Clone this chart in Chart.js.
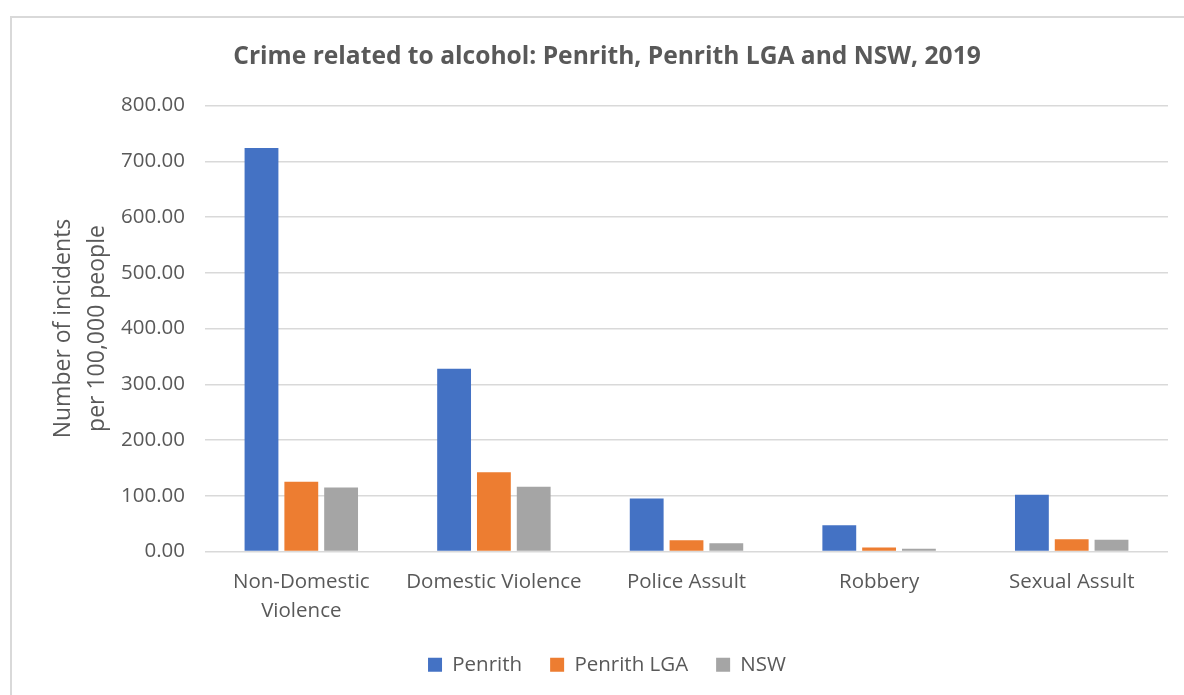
<!DOCTYPE html>
<html>
<head>
<meta charset="utf-8">
<script src="https://cdn.jsdelivr.net/npm/chart.js@4.4.1/dist/chart.umd.min.js"></script>
<style>
  html, body { margin: 0; padding: 0; background: #fff; }
  #wrap { position: relative; width: 1184px; height: 695px; overflow: hidden; }
  #frame { position: absolute; left: 10px; top: 16px; width: 1200px; height: 720px; border: 2px solid #d9d9d9; box-sizing: border-box; }
  #box { position: absolute; left: 0; top: 0; width: 1184px; height: 695px; }
</style>
</head>
<body>
<div id="wrap">
  <div id="frame"></div>
  <div id="box"><canvas id="crimeChart"></canvas></div>
</div>
<script>
// Datos del gráfico
const categorias = [['Non-Domestic', 'Violence'], 'Domestic Violence', 'Police Assult', 'Robbery', 'Sexual Assult'];
const penrith = [724, 328, 95, 47, 102];
const penrithLGA = [125, 142, 20, 7, 22];
const nsw = [115, 116, 15, 5, 21];
const ticksY = [0, 100, 200, 300, 400, 500, 600, 700, 800];

const FONT = "'Open Sans', 'Noto Sans', sans-serif";
const GRIS_TEXTO = '#595959';

Chart.defaults.font.family = FONT;
Chart.defaults.color = GRIS_TEXTO;

const ctx = document.getElementById('crimeChart').getContext('2d');
new Chart(ctx, {
    type: 'bar',
    data: {
        labels: categorias,
        datasets: [
            { label: 'Penrith', data: penrith, backgroundColor: '#4472C4' },
            { label: 'Penrith LGA', data: penrithLGA, backgroundColor: '#ED7D31' },
            { label: 'NSW', data: nsw, backgroundColor: '#A5A5A5' }
        ]
    },
    options: {
        responsive: true,
        maintainAspectRatio: false,
        animation: false,
        categoryPercentage: 0.62,
        barPercentage: 0.85,
        layout: {
            padding: { left: 46, right: 16, top: 0, bottom: 10 }
        },
        plugins: {
            title: {
                display: true,
                text: 'Crime related to alcohol: Penrith, Penrith LGA and NSW, 2019',
                color: GRIS_TEXTO,
                font: { size: 24.6, weight: 'bold', lineHeight: 1.2 },
                padding: { top: 42, bottom: 34 }
            },
            legend: {
                position: 'bottom',
                labels: {
                    boxWidth: 14,
                    boxHeight: 14,
                    padding: 28,
                    color: GRIS_TEXTO,
                    font: { size: 20.5 }
                }
            },
            tooltip: { enabled: false }
        },
        scales: {
            x: {
                grid: { display: false, drawTicks: false },
                border: { display: false },
                ticks: {
                    color: GRIS_TEXTO,
                    font: { size: 20.5, lineHeight: 1.42 },
                    padding: 16,
                    maxRotation: 0,
                    autoSkip: false
                },
                afterFit: function(scale) {
                    scale.height = 75;
                }
            },
            y: {
                min: 0,
                max: 800,
                afterBuildTicks: function(scale) {
                    scale.ticks = ticksY.map(v => ({ value: v }));
                },
                grid: { color: '#d9d9d9', lineWidth: 1.5, drawTicks: false },
                border: { display: false },
                ticks: {
                    color: GRIS_TEXTO,
                    font: { size: 20.5 },
                    padding: 20,
                    callback: function(value) {
                        return value.toFixed(2);
                    }
                },
                title: {
                    display: true,
                    text: ['Number of incidents', 'per 100,000 people'],
                    color: GRIS_TEXTO,
                    font: { size: 23, lineHeight: 1.48 },
                    padding: { top: 0, bottom: 0 }
                },
                afterFit: function(scale) {
                    scale.width = 159;
                }
            }
        }
    }
});
</script>
</body>
</html>
